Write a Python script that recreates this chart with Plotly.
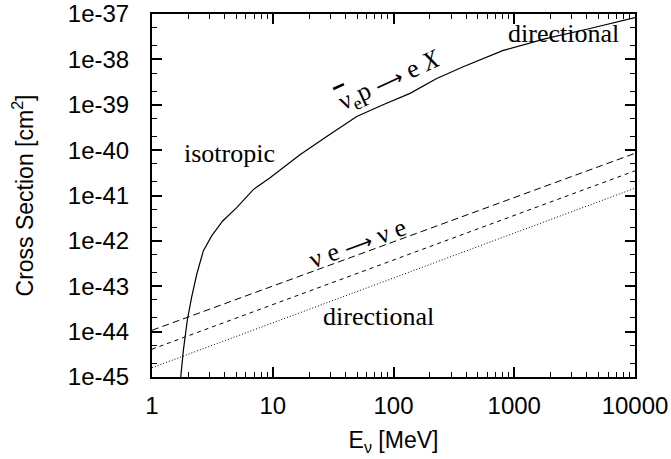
import numpy as np
import plotly.graph_objects as go

# anti-nu_e p -> e X (solid)
e_nubar = [1.73, 1.82, 1.96, 2.13, 2.35, 2.66, 3.12, 3.85, 5.03, 6.9, 9.5, 16.8, 28, 49.6,
           82, 137, 228, 378, 812, 1857, 4240, 10000]
s_nubar = [1.0e-45, 3.9e-45, 1.78e-44, 5.75e-44, 1.86e-43, 6.0e-43, 1.29e-42, 2.75e-42,
           5.4e-42, 1.35e-41, 2.45e-41, 7.9e-41, 2.0e-40, 5.5e-40, 1.0e-39, 1.78e-39,
           3.8e-39, 6.9e-39, 1.58e-38, 2.9e-38, 4.8e-38, 8.3e-38]

# nu e -> nu e (three lines)
e_nue = [1, 10000]
s_nue_a = [1.07e-44, 8.5e-41]
s_nue_b = [4.1e-45, 3.5e-41]
s_nue_c = [1.6e-45, 1.45e-41]

y_tickvals = [1e-45, 1e-44, 1e-43, 1e-42, 1e-41, 1e-40, 1e-39, 1e-38, 1e-37]
y_ticktext = ["1e-45", "1e-44", "1e-43", "1e-42", "1e-41", "1e-40", "1e-39", "1e-38", "1e-37"]
x_tickvals = [1, 10, 100, 1000, 10000]
x_ticktext = ["1", "10", "100", "1000", "10000"]

fig = go.Figure()
fig.add_trace(go.Scatter(x=e_nubar, y=s_nubar, mode="lines",
                         line=dict(color="black", width=1.2), showlegend=False))
fig.add_trace(go.Scatter(x=e_nue, y=s_nue_a, mode="lines",
                         line=dict(color="black", width=1, dash="7px,4px"), showlegend=False))
fig.add_trace(go.Scatter(x=e_nue, y=s_nue_b, mode="lines",
                         line=dict(color="black", width=1, dash="4px,4px"), showlegend=False))
fig.add_trace(go.Scatter(x=e_nue, y=s_nue_c, mode="lines",
                         line=dict(color="black", width=1, dash="1px,2px"), showlegend=False))

arrow = "<span style='font-family:DejaVu Sans;font-size:20px'>⟶</span>"
serif = dict(family="Liberation Serif", size=26, color="black")
ann = [
    dict(x=np.log10(4.4), y=-40.07, text="isotropic", textangle=0),
    dict(x=3.404, y=-37.42, text="directional", textangle=0),
    dict(x=1.872, y=-43.67, text="directional", textangle=0),
    dict(x=1.698, y=-42.05, text="ν e " + arrow + " ν e", textangle=-20),
    dict(x=1.97, y=-38.47,
         text="<span style='text-decoration:overline'>ν</span><sub>e</sub>p " + arrow + " e <i>X</i>",
         textangle=-25),
]
for a in ann:
    fig.add_annotation(x=a["x"], y=a["y"], text=a["text"], textangle=a["textangle"],
                       showarrow=False, font=serif, xref="x", yref="y")

axis_common = dict(
    showline=True, linecolor="black", linewidth=2, mirror="allticks",
    ticks="inside", ticklen=10, tickwidth=1.5, tickcolor="black",
    showgrid=False, zeroline=False, automargin=False,
    tickfont=dict(family="Liberation Sans", size=24, color="black"),
    title_font=dict(family="Liberation Sans", size=23, color="black"),
)

fig.update_xaxes(type="log", range=[0, 4], tickmode="array", tickvals=x_tickvals,
                 ticktext=x_ticktext, title_text="E<sub>ν</sub> [MeV]", title_standoff=14,
                 ticklabelstandoff=6,
                 minor=dict(ticks="inside", ticklen=5, dtick="D1", tickcolor="black",
                            tickwidth=1.2, showgrid=False),
                 **axis_common)
fig.update_yaxes(type="log", range=[-45, -37], tickmode="array", tickvals=y_tickvals,
                 ticktext=y_ticktext, title_text="Cross Section [cm<sup>2</sup>]",
                 title_standoff=28, ticklabelstandoff=16,
                 minor=dict(ticks="inside", ticklen=5, dtick="D2", tickcolor="black",
                            tickwidth=1.2, showgrid=False),
                 **axis_common)

fig.update_layout(width=671, height=459, margin=dict(l=152, r=36, t=14, b=82, autoexpand=False),
                  plot_bgcolor="white", paper_bgcolor="white")
fig.write_html("out.html")
